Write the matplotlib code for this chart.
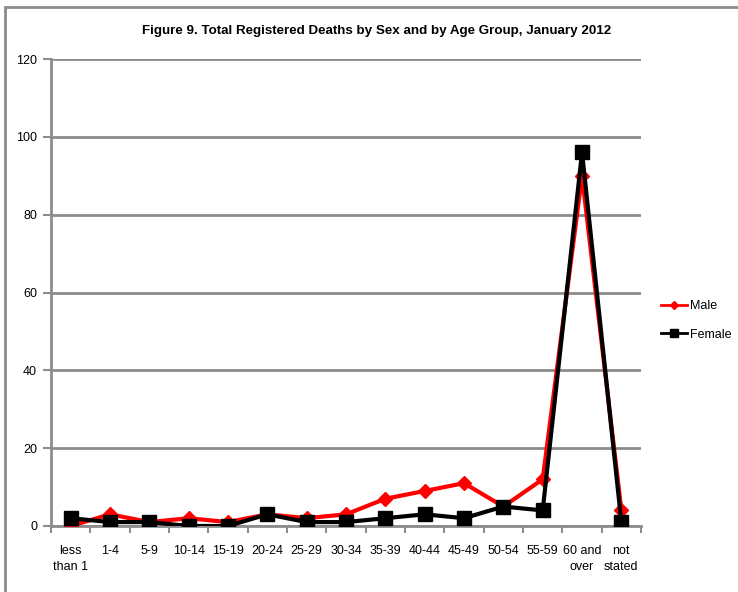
import numpy as np
import matplotlib.pyplot as plt
from matplotlib.patches import Rectangle

age_groups = ['less\nthan 1', '1-4', '5-9', '10-14', '15-19', '20-24', '25-29',
              '30-34', '35-39', '40-44', '45-49', '50-54', '55-59',
              '60 and\nover', 'not\nstated']
male = [0, 3, 1, 2, 1, 3, 2, 3, 7, 9, 11, 5, 12, 90, 4]
female = [2, 1, 1, 0, 0, 3, 1, 1, 2, 3, 2, 5, 4, 96, 1]

plt.rcParams['font.family'] = ['Liberation Sans', 'DejaVu Sans']

grey = '#8c8c8c'

fig = plt.figure(figsize=(7.38, 5.92), dpi=100)
ax = fig.add_axes([0.0691, 0.1115, 0.7995, 0.7888])

x = np.arange(len(age_groups))
ax.plot(x, male, color='#ff0000', lw=3, marker='D', ms=7, label='Male', zorder=3)
ax.plot(x, female, color='black', lw=3, marker='s', ms=10, label='Female', zorder=4)

ax.set_xlim(-0.5, len(age_groups) - 0.5)
ax.set_ylim(0, 120)
ax.set_yticks(range(0, 121, 20))
ax.yaxis.grid(True, color=grey, lw=2)
ax.set_axisbelow(True)

ax.set_xticks(x)
ax.set_xticklabels(age_groups, fontsize=9, linespacing=1.4)
ax.set_xticks(np.arange(-0.5, len(age_groups), 1), minor=True)
ax.tick_params(axis='x', which='major', length=0, pad=14)
ax.tick_params(axis='x', which='minor', length=5, width=1.5, color=grey)
ax.tick_params(axis='y', length=6, width=1.5, color=grey, labelsize=9, pad=4)

for s in ['top', 'right']:
    ax.spines[s].set_visible(False)
for s in ['left', 'bottom']:
    ax.spines[s].set_color(grey)
    ax.spines[s].set_linewidth(2)

fig.text(0.51, 0.948, 'Figure 9. Total Registered Deaths by Sex and by Age Group, January 2012',
         ha='center', va='center', fontsize=9.6, fontweight='bold')

leg = ax.legend(loc='center left', bbox_to_anchor=(1.015, 0.44), frameon=False,
                fontsize=9, handlelength=2.1, labelspacing=1.3, handletextpad=0.2,
                markerscale=0.6)
for h in leg.get_lines():
    h.set_linewidth(2)

fig.patches.append(Rectangle((5 / 738, -0.1), 1.2, 1 - 7 / 592 + 0.1,
                             transform=fig.transFigure, fill=False,
                             edgecolor=grey, lw=2))

fig.savefig('out.png', dpi=100)
